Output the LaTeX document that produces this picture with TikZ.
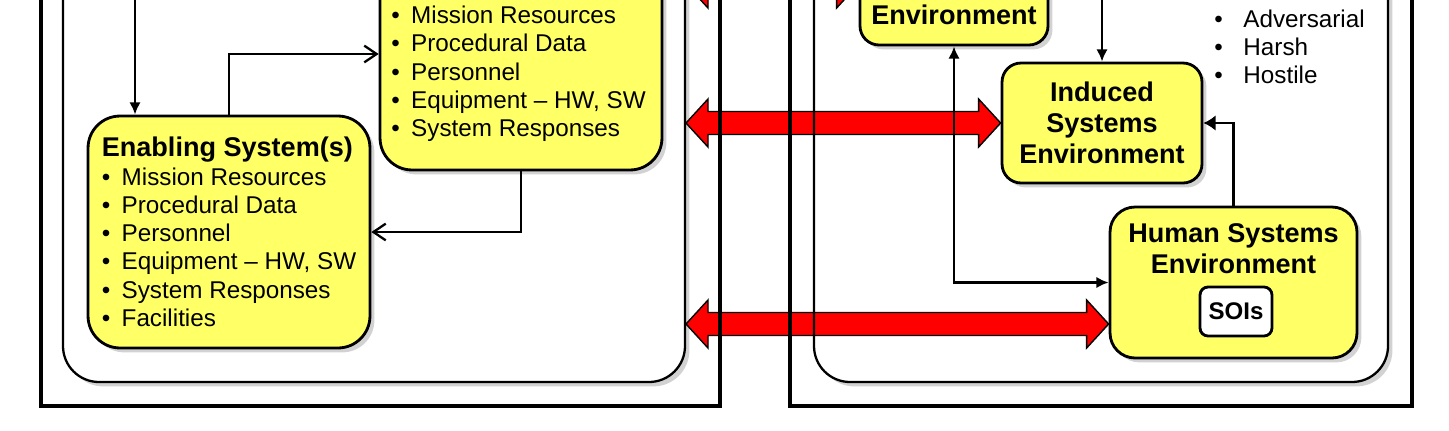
\documentclass[tikz,border=0pt]{standalone}
\usepackage{fontspec}
\setmainfont{Liberation Sans}
\usetikzlibrary{arrows.meta, shadows, calc, backgrounds}
\definecolor{boxyellow}{RGB}{255,255,102}
\newcommand{\itm}{\makebox[0.82em][l]{\textbullet}}
\newcommand{\redarrow}[2]{%
	\draw[redarr] (#1) -- ++(22,-24) -- ++(0,12.5) -- ($(#2)+(-22,-11.5)$) -- ++(0,-12.5) -- (#2)
	-- ++(-22,24) -- ++(0,-12.5) -- ($(#1)+(22,11.5)$) -- ++(0,12.5) -- cycle;}

\begin{document}
\begin{tikzpicture}[x=0.02cm, y=-0.02cm,
	box/.style={draw, line width=1.6pt, fill=boxyellow, drop shadow={opacity=0.35, shadow xshift=2.5pt, shadow yshift=-2.5pt}},
	bigbox/.style={box, rounded corners=0.64cm, minimum width=5.64cm, minimum height=4.64cm, inner sep=0pt},
	envbox/.style={box, rounded corners=0.38cm, align=center, inner sep=0pt, font=\bfseries\fontsize{15.4}{17.6}\selectfont},
	title/.style={align=center, inner sep=0pt, font=\bfseries\fontsize{15.4}{17.6}\selectfont},
	list/.style={align=left, inner sep=0pt, font=\fontsize{13.8}{16.1}\selectfont},
	frame/.style={line width=2pt},
	inframe/.style={line width=1.3pt, rounded corners=0.72cm},
	link/.style={line width=1.3pt, -{Latex[length=7pt, width=6.5pt]}},
	twolink/.style={line width=1.3pt, {Latex[length=7pt, width=6.5pt]}-{Latex[length=7pt, width=6.5pt]}},
	openlink/.style={line width=1.3pt, -{Straight Barb[length=7pt, width=9.5pt, line width=1.3pt]}},
	redarr/.style={fill=red, draw=black, line width=0.8pt, line join=miter}]

	\useasboundingbox (0,0) rectangle (1449,430);
	\clip (0,0) rectangle (1449,430);

	%%% Left side
	\node[bigbox, list] (enab) at (229,232) {{\bfseries\fontsize{15.4}{17.6}\selectfont Enabling System(s)}\\
		\itm Mission Resources\\ \itm Procedural Data\\ \itm Personnel\\
		\itm Equipment -- HW, SW\\ \itm System Responses\\ \itm Facilities};
	\node[bigbox] (miss) at (521,54) {};
	\node[list, anchor=west] (misslist) at (391,74) {\itm Mission Resources\\ \itm Procedural Data\\
		\itm Personnel\\ \itm Equipment -- HW, SW\\ \itm System Responses};

	%%% Right side
	\node[envbox, minimum width=3.76cm, minimum height=2.44cm] (env) at (954,-16) {};
	\node[title] (envtext) at (954,15) {Environment};
	\node[envbox, minimum width=4cm, minimum height=2.4cm] (ind) at (1102,123) {Induced\\Systems\\Environment};
	\node[envbox, rounded corners=0.5cm, minimum width=4.94cm, minimum height=3.02cm] (hse) at (1233.5,282.5) {};
	\node[title] (hsetext) at (1233.5,248.5) {Human Systems\\Environment};
	\node[draw, line width=1.6pt, fill=white, rounded corners=0.16cm, minimum width=1.44cm, minimum height=0.98cm,
		font=\bfseries\fontsize{13.7}{16}\selectfont] (soi) at (1236,311.5) {SOIs};
	\node[list, font=\fontsize{13.8}{15.9}\selectfont, anchor=west] (envlist) at (1214,47)
		{\makebox[1.2em][l]{\textbullet}Adversarial\\ \makebox[1.2em][l]{\textbullet}Harsh\\ \makebox[1.2em][l]{\textbullet}Hostile};

	%%% Connectors
	\coordinate (topsrc) at (135,-100);
	\coordinate (indsrc) at (1102,-100);
	\draw[link, line width=1.6pt] (topsrc) -- (topsrc |- enab.north);
	\draw[openlink] (enab.north) |- (miss.west);
	\draw[openlink] (miss.south) |- (enab.east);
	\draw[link] (indsrc) -- (ind.north);
	\draw[link, -{Latex[length=7pt, width=9pt]}] (hse.north) |- (ind.east);
	\draw[twolink] (env.south) |- (hse.west);

	%%% Frames and red arrows
	\begin{scope}[on background layer]
		\fill[white] (0,0) rectangle (1449,430);
		\clip (0,0) rectangle (1449,430);
		\fill[white, inframe, drop shadow={opacity=0.35, shadow xshift=2.5pt, shadow yshift=-2.5pt}] (63,-100) rectangle (685,382);
		\fill[white, inframe, drop shadow={opacity=0.35, shadow xshift=2.5pt, shadow yshift=-2.5pt}] (814,-100) rectangle (1388,382);
		\coordinate (leftedge) at (686,0);
		\coordinate (ra) at (leftedge |- env.west);
		\coordinate (rb) at (leftedge |- ind.west);
		\coordinate (rc) at (leftedge |- 0,324);
		\coordinate (hseport) at (hse.west |- 0,324);
		\redarrow{ra}{env.west}
		\redarrow{rb}{ind.west}
		\redarrow{rc}{hseport}
		\draw[inframe] (63,-100) rectangle (685,382);
		\draw[inframe] (814,-100) rectangle (1388,382);
		\draw[frame] (41,-100) rectangle (720,406);
		\draw[frame] (790,-100) rectangle (1412,406);
	\end{scope}
\end{tikzpicture}
\end{document}
